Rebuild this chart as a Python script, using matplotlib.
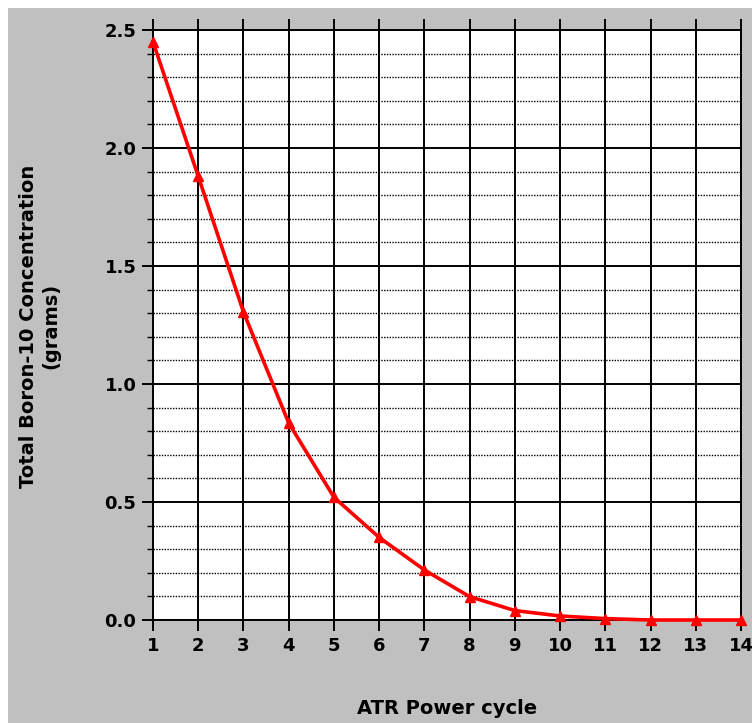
import matplotlib
matplotlib.use("Agg")
import matplotlib.pyplot as plt
from matplotlib.patches import Rectangle
from matplotlib.ticker import MultipleLocator, FormatStrFormatter

# data
cycles = [1, 2, 3, 4, 5, 6, 7, 8, 9, 10, 11, 12, 13, 14]
boron_g = [2.45, 1.88, 1.305, 0.835, 0.52, 0.35, 0.212, 0.099, 0.04,
           0.017, 0.006, 0.0, 0.0, 0.0]
x_label = "ATR Power cycle"
y_label = "Total Boron-10 Concentration\n(grams)"

GRAY = "#c0c0c0"
plt.rcParams["font.family"] = ["DejaVu Sans"]
plt.rcParams["font.weight"] = "bold"

W, H = 752, 723
fig = plt.figure(figsize=(W / 100, H / 100), dpi=100, facecolor="white")
# gray panel with thin white strip on top/left
fig.patches.append(Rectangle((8 / W, 0), 1 - 8 / W, 1 - 8 / H,
                             transform=fig.transFigure, facecolor=GRAY,
                             edgecolor="none", zorder=-10))

ax = fig.add_axes([153 / W, 1 - 620 / H, (741 - 153) / W, (620 - 30) / H])
ax.set_zorder(5)
ax.set_facecolor("white")
ax.set_xlim(1, 14)
ax.set_ylim(0, 2.5)

ax.xaxis.set_major_locator(MultipleLocator(1))
ax.yaxis.set_major_locator(MultipleLocator(0.5))
ax.yaxis.set_minor_locator(MultipleLocator(0.1))
ax.yaxis.set_major_formatter(FormatStrFormatter("%.1f"))

ax.grid(which="major", axis="both", color="black", lw=1.4, ls="-")
ax.grid(which="minor", axis="y", color="black", lw=1.0, ls=(0, (1, 1)))
ax.set_axisbelow(True)

for s in ax.spines.values():
    s.set_color("black")
    s.set_linewidth(1.4)

ax.tick_params(axis="x", which="major", direction="out", length=8, width=1.4,
               top=True, labelsize=13, pad=4)
ax.tick_params(axis="y", which="major", direction="out", length=8, width=1.4,
               labelsize=13, pad=4)
ax.tick_params(axis="y", which="minor", direction="out", length=4, width=1.0)

ax.plot(cycles, boron_g, color="red", lw=2.6, marker="^", ms=7.5,
        mec="red", mfc="red", clip_on=False, zorder=5)

fig.text(447 / W, 1 - 708 / H, x_label, ha="center", va="center",
         fontsize=14, fontweight="bold")
fig.text(40 / W, 1 - 326 / H, y_label, ha="center", va="center",
         rotation=90, multialignment="center", fontsize=14,
         fontweight="bold", linespacing=1.25)

fig.savefig("out.png", dpi=100, facecolor=fig.get_facecolor())
